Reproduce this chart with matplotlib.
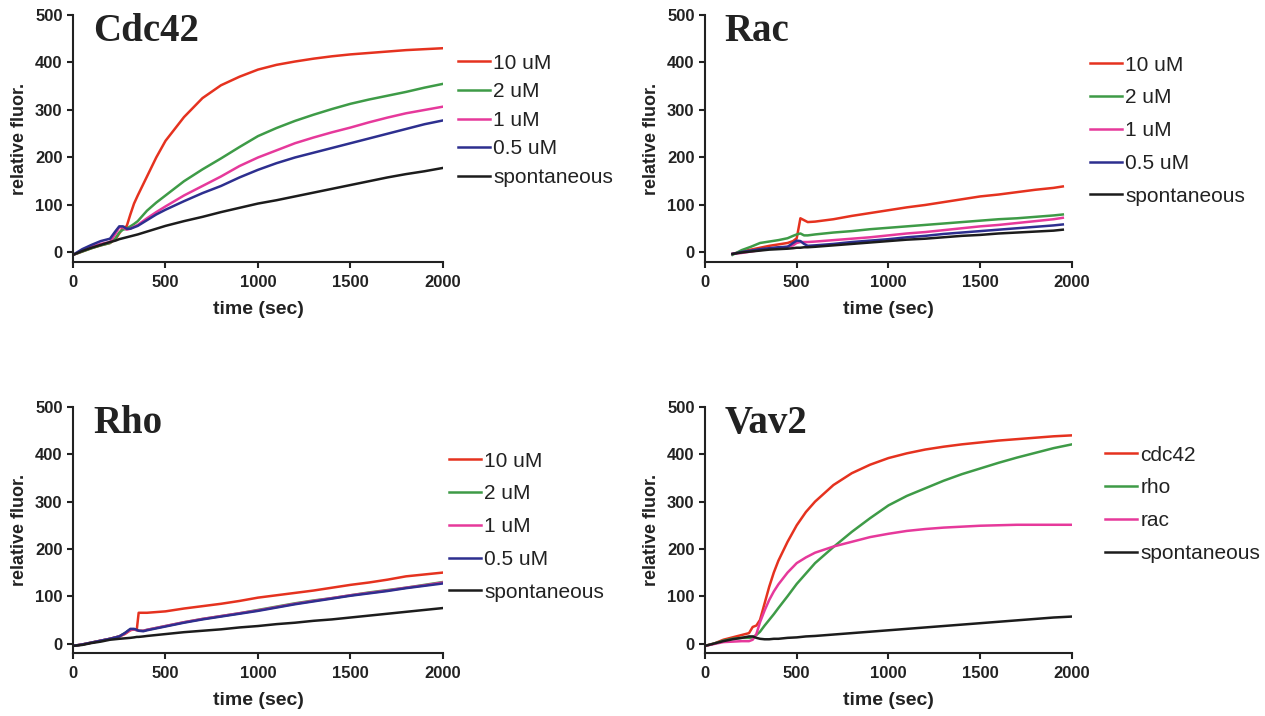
import matplotlib
matplotlib.use("Agg")
import matplotlib.pyplot as plt

# ---------------- data ----------------
conc_labels = ["10 uM", "2 uM", "1 uM", "0.5 uM", "spontaneous"]
vav_labels = ["cdc42", "rho", "rac", "spontaneous"]

# Cdc42
cdc42_t = [0, 50, 100, 150, 200, 230, 250, 270, 290, 310, 330, 350, 400, 450,
           500, 600, 700, 800, 900, 1000, 1100, 1200, 1300, 1400, 1500, 1600,
           1700, 1800, 1900, 2000]
cdc42_10 = [-5, 2, 9, 15, 20, 28, 40, 52, 55, 80, 103, 120, 160, 200,
            235, 285, 325, 352, 370, 385, 395, 402, 408, 413, 417, 420,
            423, 426, 428, 430]
cdc42_2 = [-5, 2, 9, 15, 20, 30, 42, 48, 50, 55, 60, 66, 88, 105,
           120, 150, 175, 198, 222, 245, 262, 277, 290, 302, 313, 322,
           330, 338, 347, 355]
cdc42_1 = [-5, 4, 12, 18, 22, 40, 53, 53, 48, 50, 54, 58, 72, 85,
           97, 120, 140, 160, 182, 200, 215, 230, 242, 253, 263, 274,
           284, 293, 300, 307]
cdc42_05 = [-5, 7, 16, 24, 29, 45, 55, 55, 50, 50, 53, 56, 68, 80,
            90, 108, 125, 140, 158, 174, 188, 200, 210, 220, 230, 240,
            250, 260, 270, 278]
cdc42_sp = [-5, 3, 10, 16, 22, 25, 28, 30, 32, 34, 36, 38, 44, 50,
            56, 66, 75, 85, 94, 103, 110, 118, 126, 134, 142, 150,
            158, 165, 171, 178]

# Rac
rac_t = [150, 200, 250, 300, 350, 400, 450, 480, 500, 520, 540, 560, 600,
         700, 800, 900, 1000, 1100, 1200, 1300, 1400, 1500, 1600, 1700,
         1800, 1900, 1950]
rac_10 = [-3, 2, 6, 10, 14, 17, 20, 24, 30, 72, 68, 64, 65,
          70, 77, 83, 89, 95, 100, 106, 112, 118, 122, 127, 132, 136, 139]
rac_2 = [-5, 5, 12, 20, 23, 26, 30, 35, 38, 40, 36, 36, 38,
         42, 45, 49, 52, 55, 58, 61, 64, 67, 70, 72, 75, 78, 80]
rac_1 = [-3, -1, 2, 5, 8, 10, 12, 15, 20, 22, 22, 22, 23,
         26, 29, 32, 36, 40, 43, 47, 51, 55, 58, 62, 66, 70, 73]
rac_05 = [-3, 1, 4, 7, 9, 11, 12, 20, 25, 24, 18, 14, 15,
          18, 22, 25, 28, 32, 35, 39, 42, 45, 48, 51, 54, 57, 59]
rac_sp = [-3, 0, 2, 4, 6, 7, 8, 9, 10, 10, 11, 11, 12,
          15, 18, 21, 24, 27, 29, 32, 35, 37, 40, 42, 44, 46, 48]

# Rho
rho_t = [0, 50, 100, 150, 200, 250, 280, 310, 330, 345, 355, 380, 400, 500,
         600, 700, 800, 900, 1000, 1100, 1200, 1300, 1400, 1500, 1600, 1700,
         1800, 1900, 2000]
rho_10 = [-5, -2, 2, 6, 10, 15, 20, 28, 30, 30, 65, 65, 65, 68,
          74, 79, 84, 90, 97, 102, 107, 112, 118, 124, 129, 135, 142, 146, 150]
rho_2 = [-5, -2, 2, 6, 10, 15, 22, 30, 30, 28, 27, 27, 29, 37,
         45, 52, 58, 64, 71, 78, 85, 91, 96, 102, 108, 113, 118, 124, 130]
rho_1 = [-5, -2, 2, 6, 10, 15, 21, 29, 30, 28, 27, 27, 29, 37,
         45, 52, 58, 64, 70, 77, 84, 90, 96, 102, 107, 112, 118, 123, 129]
rho_05 = [-5, -2, 2, 6, 10, 15, 22, 31, 31, 29, 27, 26, 28, 36,
          44, 51, 57, 63, 69, 76, 83, 89, 95, 101, 106, 111, 117, 122, 127]
rho_sp = [-5, -3, 1, 4, 8, 10, 11, 12, 13, 14, 14, 15, 16, 20,
          24, 27, 30, 34, 37, 41, 44, 48, 51, 55, 59, 63, 67, 71, 75]

# Vav2
vav_t = [0, 50, 100, 150, 200, 240, 260, 280, 300, 325, 350, 375, 400, 450,
         500, 550, 600, 700, 800, 900, 1000, 1100, 1200, 1300, 1400, 1500,
         1600, 1700, 1800, 1900, 2000]
vav_cdc42 = [-5, 0, 8, 13, 18, 22, 35, 38, 50, 85, 120, 150, 175, 215,
             250, 278, 300, 335, 360, 378, 392, 402, 410, 416, 421, 425,
             429, 432, 435, 438, 440]
vav_rho = [-5, 0, 6, 10, 12, 12, 13, 18, 25, 38, 50, 62, 75, 100,
           126, 148, 170, 204, 236, 265, 292, 312, 328, 344, 358, 370,
           382, 393, 403, 413, 421]
vav_rac = [-5, -1, 3, 4, 5, 5, 8, 20, 45, 70, 92, 110, 125, 150,
           170, 182, 192, 205, 215, 225, 232, 238, 242, 245, 247, 249,
           250, 251, 251, 251, 251]
vav_sp = [-5, 0, 5, 9, 12, 15, 15, 12, 10, 9, 9, 10, 10, 12,
          13, 15, 16, 19, 22, 25, 28, 31, 34, 37, 40, 43,
          46, 49, 52, 55, 57]

# ---------------- style ----------------
RED = "#e5321f"
GREEN = "#3e9b47"
MAGENTA = "#e6399b"
BLUE = "#2d2f8f"
BLACK = "#1c1c1c"
TXT = "#222222"

plt.rcParams["font.family"] = ["Liberation Sans", "DejaVu Sans"]

fig = plt.figure(figsize=(12.65, 7.16), dpi=100)

panels = [
    # title, rect, t, series, colors, labels, legend anchor, label spacing
    ("Cdc42", [0.0577, 0.6341, 0.2925, 0.345], cdc42_t,
     [cdc42_10, cdc42_2, cdc42_1, cdc42_05, cdc42_sp],
     [RED, GREEN, MAGENTA, BLUE, BLACK], conc_labels, (1.04, 0.843), 0.46),
    ("Rac", [0.5573, 0.6341, 0.2901, 0.345], rac_t,
     [rac_10, rac_2, rac_1, rac_05, rac_sp],
     [RED, GREEN, MAGENTA, BLUE, BLACK], conc_labels, (1.049, 0.835), 0.66),
    ("Rho", [0.0577, 0.088, 0.2925, 0.3436], rho_t,
     [rho_10, rho_2, rho_1, rho_05, rho_sp],
     [RED, GREEN, MAGENTA, BLUE, BLACK], conc_labels, (1.016, 0.818), 0.66),
    ("Vav2", [0.5573, 0.088, 0.2901, 0.3436], vav_t,
     [vav_cdc42, vav_rho, vav_rac, vav_sp],
     [RED, GREEN, MAGENTA, BLACK], vav_labels, (1.09, 0.843), 0.66),
]

for title, rect, t, series, colors, labels, anchor, lspace in panels:
    ax = fig.add_axes(rect)
    for y, c, lab in zip(series, colors, labels):
        ax.plot(t, y, color=c, lw=1.8, label=lab)
    ax.set_xlim(0, 2000)
    ax.set_ylim(-20, 500)
    ax.set_xticks([0, 500, 1000, 1500, 2000])
    ax.set_yticks([0, 100, 200, 300, 400, 500])
    for s in ["top", "right"]:
        ax.spines[s].set_visible(False)
    for s in ["left", "bottom"]:
        ax.spines[s].set_linewidth(1.5)
        ax.spines[s].set_color(TXT)
    ax.tick_params(axis="both", length=4.5, width=1.5, color=TXT,
                   labelsize=12, labelcolor=TXT)
    ax.tick_params(axis="x", pad=5)
    ax.tick_params(axis="y", pad=3)
    for lb in ax.get_xticklabels() + ax.get_yticklabels():
        lb.set_fontweight("bold")
    ax.set_xlabel("time (sec)", fontsize=14, fontweight="bold",
                  color=TXT, labelpad=8)
    ax.set_ylabel("relative fluor.", fontsize=13, fontweight="bold",
                  color=TXT, labelpad=5)
    ax.text(0.054, 0.895, title, transform=ax.transAxes,
            family=["Liberation Serif", "DejaVu Serif"],
            fontsize=28, fontweight="bold", color=TXT, va="baseline")
    ax.legend(loc="upper left", bbox_to_anchor=anchor, frameon=False,
              fontsize=15, borderaxespad=0, borderpad=0,
              handlelength=1.54, handletextpad=0.15, labelspacing=lspace,
              labelcolor=TXT)

plt.savefig("out.png", dpi=100)
